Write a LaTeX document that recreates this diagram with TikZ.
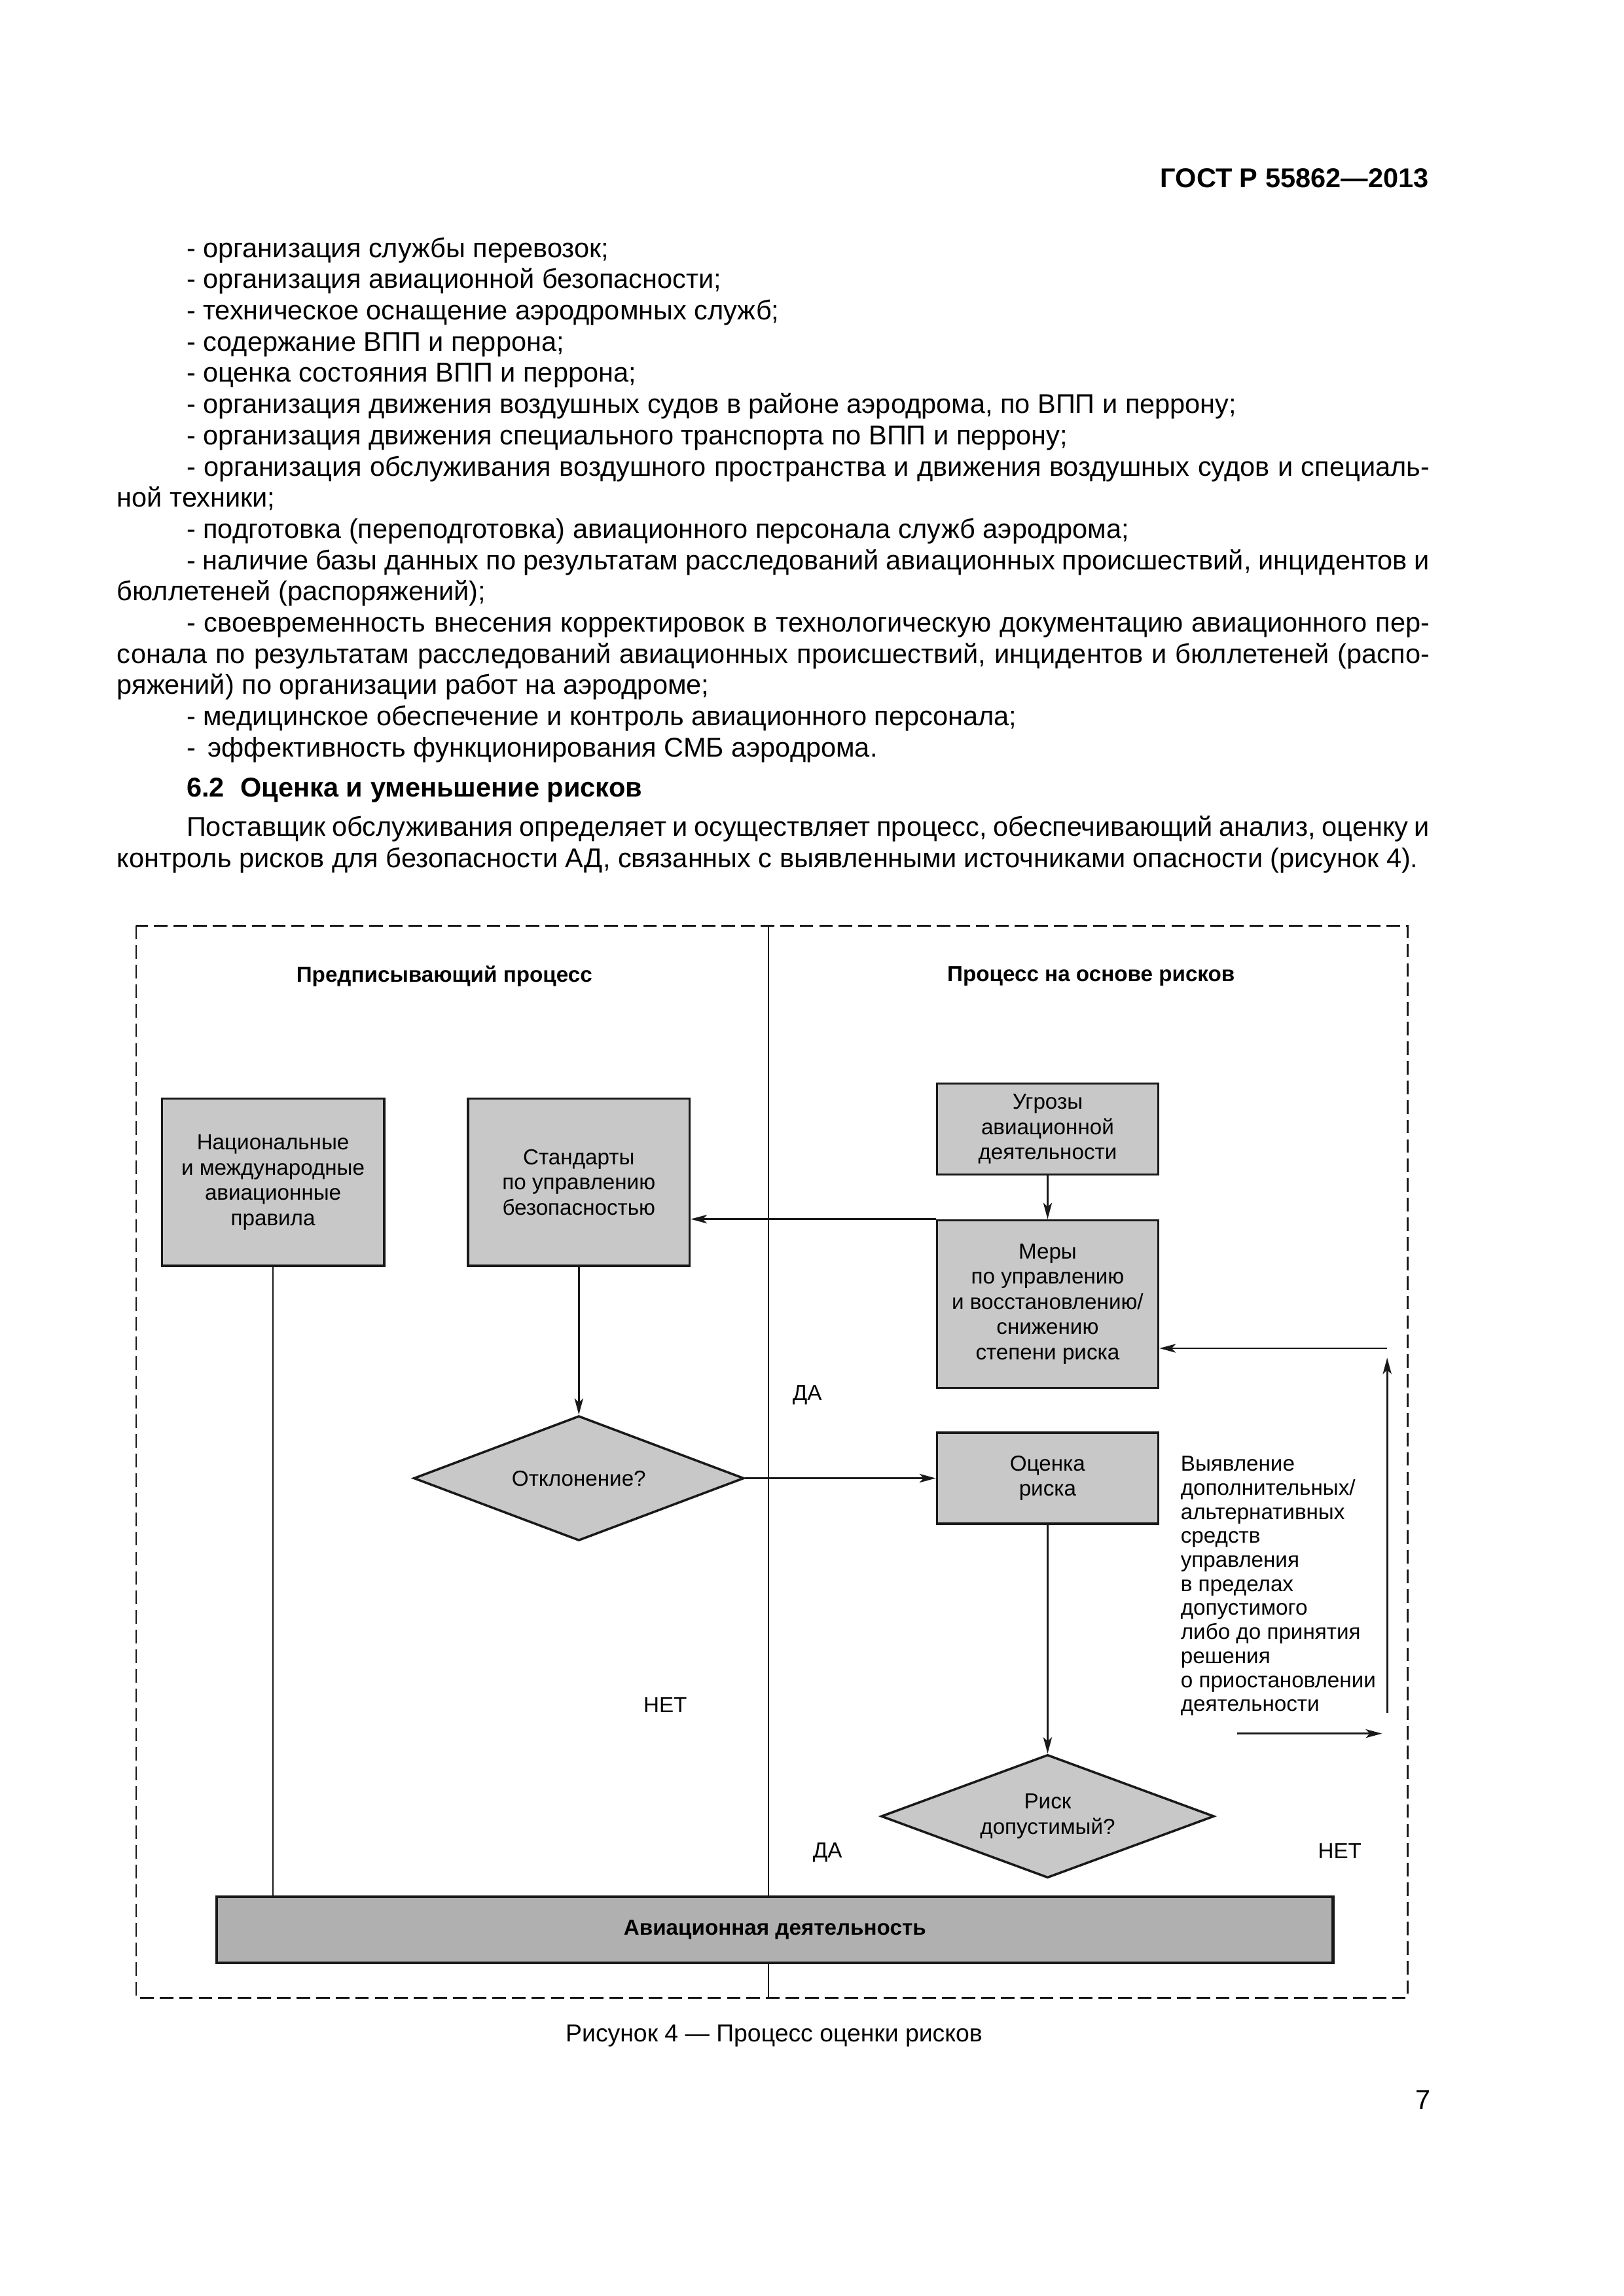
\documentclass[tikz,border=0pt]{standalone}
\usepackage{fontspec}
\setmainfont{Liberation Sans}
\usetikzlibrary{shapes.geometric,arrows.meta}
\setlength{\parindent}{0pt}
\definecolor{boxgray}{RGB}{200,200,200}
\definecolor{bargray}{RGB}{176,176,176}
\definecolor{ink}{RGB}{25,25,25}
\newcommand\dunit{0.19039mm}
\newlength\bodyind
\setlength\bodyind{8.99mm}
\newlength\indwidth
\newcommand\bodysp{\spaceskip=0.278em plus 0.5em minus 0.25em\relax}
\newcommand\firststrut{\leavevmode\vrule width 0pt height 8pt depth 0pt\relax}
\newcommand\lInd[1]{\hspace*{\bodyind}#1}
\newcommand\jInd[1]{\setlength\indwidth{\linewidth}\addtolength\indwidth{-\bodyind}\hspace*{\bodyind}\makebox[\indwidth][s]{#1}}
\newcommand\jFull[1]{\makebox[\linewidth][s]{#1}}
\begin{document}
\begin{tikzpicture}[x=0.19039mm,y=-0.19039mm,
  body/.style={inner sep=0pt,anchor=north west,yshift=8pt,text width=169.79mm,align=left,
    font=\fontsize{10}{11.49}\selectfont},
  box/.style={draw=ink,fill=boxgray,line width=0.85pt,inner sep=0pt,align=center,
    font=\fontsize{8}{9.28}\selectfont},
  dia/.style={diamond,aspect=2.65,draw=ink,fill=boxgray,line width=0.85pt,inner sep=0pt,align=center,
    font=\fontsize{8}{9.28}\selectfont},
  conn/.style={draw=ink,line width=0.65pt,-{Stealth[length=6pt,width=3.2pt,inset=1.5pt]}},
  plainline/.style={draw=ink,line width=0.65pt},
  frameline/.style={draw=ink,line width=0.6pt,dash pattern=on 5pt off 2.2pt},
  divider/.style={draw=ink,line width=0.5pt},
  lbl/.style={inner sep=0pt,font=\fontsize{8}{9.28}\selectfont},
  ttl/.style={inner sep=0pt,font=\fontsize{8}{9.6}\selectfont\bfseries}]
\useasboundingbox (0,0) rectangle (1103,1560.2);

% header
\node[anchor=base east,inner sep=0pt,font=\fontsize{10}{12}\selectfont\bfseries] (hdr) at (971,127.5) {ГОСТ Р 55862—2013};

% body text
\node[body] (txt1) at (79.2,174.5) {\bodysp\firststrut\lInd{- организация службы перевозок;}\\
\lInd{- организация авиационной безопасности;}\\
\lInd{- техническое оснащение аэродромных служб;}\\
\lInd{- содержание ВПП и перрона;}\\
\lInd{- оценка состояния ВПП и перрона;}\\
\lInd{- организация движения воздушных судов в районе аэродрома, по ВПП и перрону;}\\
\lInd{- организация движения специального транспорта по ВПП и перрону;}\\
\jInd{- организация обслуживания воздушного пространства и движения воздушных судов и специаль-}\\
ной техники;\\
\lInd{- подготовка (переподготовка) авиационного персонала служб аэродрома;}\\
\jInd{- наличие базы данных по результатам расследований авиационных происшествий, инцидентов и}\\
бюллетеней (распоряжений);\\
\jInd{- своевременность внесения корректировок в технологическую документацию авиационного пер-}\\
\jFull{сонала по результатам расследований авиационных происшествий, инцидентов и бюллетеней (распо-}\\
ряжений) по организации работ на аэродроме;\\
\lInd{- медицинское обеспечение и контроль авиационного персонала;}\\
\lInd{-\hspace{4.5pt}эффективность функционирования СМБ аэродрома.}};

\node[anchor=base west,inner sep=0pt,font=\fontsize{10}{12}\selectfont\bfseries] (h62) at (126.4,541.7) {6.2\hspace{6pt}Оценка и уменьшение рисков};

\node[body] (txt2) at (79.2,568) {\bodysp\firststrut\jInd{Поставщик обслуживания определяет и осуществляет процесс, обеспечивающий анализ, оценку и}\\
контроль рисков для безопасности АД, связанных с выявленными источниками опасности (рисунок 4).};

% frame and divider
\draw[divider] (522.3,629) -- (522.3,1357.5);
\draw[frameline] (92.6,629) rectangle (956.5,1357.5);

% titles
\node[ttl] (t1) at (301.9,663.5) {Предписывающий процесс};
\node[ttl] (t2) at (741.3,663.5) {Процесс на основе рисков};

% boxes
\node[box,minimum width=151*\dunit,minimum height=113.5*\dunit] (b1) at (185.5,803.35) {Национальные\\и международные\\авиационные\\правила};
\node[box,minimum width=150.4*\dunit,minimum height=113.5*\dunit] (b2) at (393.3,803.35) {Стандарты\\по управлению\\безопасностью};
\node[box,minimum width=150.4*\dunit,minimum height=61.9*\dunit] (b3) at (711.8,767.25) {Угрозы\\авиационной\\деятельности};
\node[box,minimum width=150.4*\dunit,minimum height=113.8*\dunit] (b4) at (711.8,886.1) {Меры\\по управлению\\и восстановлению/\\снижению\\степени риска};
\node[box,minimum width=150.4*\dunit,minimum height=61.8*\dunit] (b5) at (711.8,1004.5) {Оценка\\риска};
\node[dia,minimum width=224.4*\dunit,minimum height=84.8*\dunit] (d1) at (393.3,1004.5) {Отклонение?};
\node[dia,minimum width=226.3*\dunit,minimum height=83.7*\dunit] (d2) at (711.8,1234.2) {Риск\\допустимый?};

% bottom bar
\node[draw=ink,fill=bargray,line width=1pt,minimum width=758.4*\dunit,minimum height=45*\dunit,inner sep=0pt,
  font=\fontsize{8}{9.6}\selectfont\bfseries] (bar) at (526.5,1311.3) {Авиационная деятельность};

% connectors
\draw[conn] (b3.south) -- (b4.north);
\draw[conn] (b4.north west) -- (b4.north west -| b2.east);
\draw[conn] (b2.south) -- (d1.north);
\draw[conn] (d1.east) -- (b5.west);
\draw[conn] (b5.south) -- (d2.north);
\draw[plainline] (b1.south) -- (b1.south |- bar.north);

\coordinate (fa) at (840.6,1178);
\coordinate (fb) at (939,1178);
\coordinate (fc) at (942.5,1164);
\coordinate (fd) at (942.5,922.6);
\coordinate (fe) at (942.5,916.2);
\draw[conn] (fa) -- (fb);
\draw[conn] (fc) -- (fd);
\draw[conn] (fe) -- (fe -| b4.east);

% labels
\node[lbl] (da1) at (548.5,948) {ДА};
\node[lbl] (net1) at (452,1158.6) {НЕТ};
\node[lbl] (da2) at (562.3,1258.7) {ДА};
\node[lbl] (net2) at (910.3,1257.9) {НЕТ};

\node[anchor=north west,yshift=7pt,inner sep=0pt,align=left,font=\fontsize{8}{8.85}\selectfont] (side) at (801.9,997.4)
 {\firststrut Выявление\\дополнительных/\\альтернативных\\средств\\управления\\в пределах\\допустимого\\либо до принятия\\решения\\о приостановлении\\деятельности};

% caption and page number
\node[anchor=base,inner sep=0pt,font=\fontsize{9}{11}\selectfont] (cap) at (525.9,1387.5) {Рисунок 4 — Процесс оценки рисков};
\node[anchor=base,inner sep=0pt,font=\fontsize{10}{12}\selectfont] (pg) at (966.9,1433.1) {7};
\end{tikzpicture}
\end{document}
